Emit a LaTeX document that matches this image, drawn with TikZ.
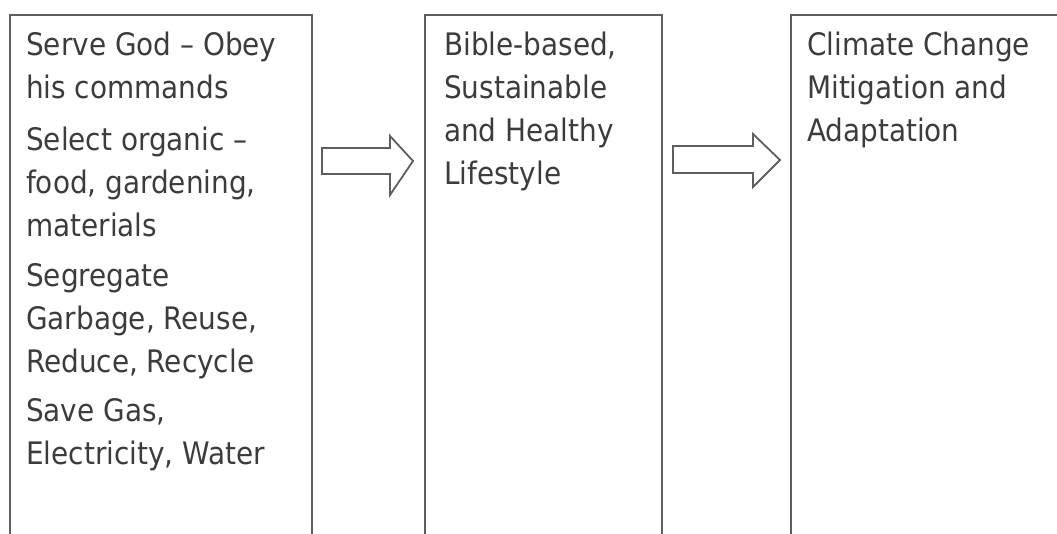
\documentclass[tikz,border=0pt]{standalone}
\usepackage{fontspec}
\setmainfont{DejaVu Sans Condensed}
\definecolor{linegray}{HTML}{5E5E5E}
\definecolor{textgray}{HTML}{3C3C3C}
\begin{document}
\begin{tikzpicture}[x=1pt,y=1pt,
  box/.style={draw=linegray, line width=1.6pt, rectangle, inner sep=0pt, anchor=north west},
  txt/.style={anchor=north west, inner sep=0pt, align=left, text=textgray,
    font=\fontsize{31}{43}\selectfont},
  blockarrow/.style={draw=linegray, line width=1.8pt, fill=white, line join=miter}]
\useasboundingbox (0,0) rectangle (1057,-533);
\clip (0,0) rectangle (1057,-533);
% boxes (bottoms run off the page)
\node[box, minimum width=302, minimum height=560] (b1) at (9,-14) {};
\node[box, minimum width=237, minimum height=560] (b2) at (424,-14) {};
\node[box, minimum width=300, minimum height=560] (b3) at (790,-14) {};
% texts
\node[txt] (t1) at (26,-32) {Serve God -- Obey\\his commands\\[8.5pt]Select organic --\\food, gardening,\\materials\\[7pt]Segregate\\Garbage, Reuse,\\Reduce, Recycle\\[6.5pt]Save Gas,\\Electricity, Water};
\node[txt] (t2) at (444,-32) {Bible-based,\\Sustainable\\and Healthy\\Lifestyle};
\node[txt] (t3) at (807,-32) {Climate Change\\Mitigation and\\Adaptation};
% block arrows
\draw[blockarrow] (322,-148) -- (390,-148) -- (390,-136) -- (413,-161) -- (390,-195) -- (390,-174) -- (322,-174) -- cycle;
\draw[blockarrow] (673,-146) -- (753,-146) -- (753,-134) -- (780,-160) -- (753,-187) -- (753,-173) -- (673,-173) -- cycle;
\end{tikzpicture}
\end{document}
